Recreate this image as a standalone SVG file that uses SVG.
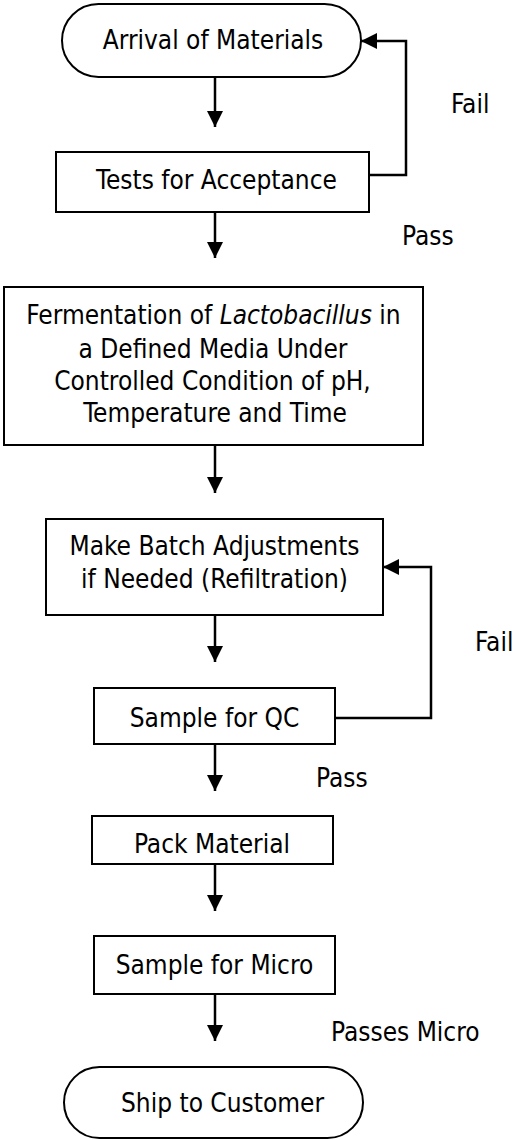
<svg xmlns="http://www.w3.org/2000/svg" width="516" height="1140" viewBox="0 0 516 1140">
<style>
.n{fill:#fff;stroke:#000;stroke-width:2}
.t{font-family:"DejaVu Sans Condensed","DejaVu Sans",Verdana,sans-serif;font-stretch:condensed;font-size:26px;fill:#000;text-anchor:middle}
.l{font-family:"DejaVu Sans Condensed","DejaVu Sans",Verdana,sans-serif;font-stretch:condensed;font-size:26px;fill:#000}
.c{fill:none;stroke:#000;stroke-width:2.5}
</style>
<defs>
<marker id="ah" markerUnits="userSpaceOnUse" markerWidth="16" markerHeight="16" refX="15" refY="7.5" orient="auto" viewBox="0 0 15 15">
<path d="M0,0 L15,7.5 L0,15 z" fill="#000"/>
</marker>
</defs>
<g id="connectors">
<path class="c" d="M215,77 V127" marker-end="url(#ah)"/>
<path class="c" d="M369,175 H406 V41 H361" marker-end="url(#ah)"/>
<path class="c" d="M215,212 V258" marker-end="url(#ah)"/>
<path class="c" d="M215,445 V493" marker-end="url(#ah)"/>
<path class="c" d="M215,615 V662" marker-end="url(#ah)"/>
<path class="c" d="M335,718 H431 V567 H383" marker-end="url(#ah)"/>
<path class="c" d="M215,744 V791" marker-end="url(#ah)"/>
<path class="c" d="M215,864 V911" marker-end="url(#ah)"/>
<path class="c" d="M215,994 V1041" marker-end="url(#ah)"/>
<text class="l" x="451" y="113">Fail</text>
<text class="l" x="402" y="245">Pass</text>
<text class="l" x="475" y="651">Fail</text>
<text class="l" x="316" y="787">Pass</text>
<text class="l" x="331" y="1041">Passes Micro</text>
</g>
<g id="arrival">
<rect class="n" x="62" y="4" width="299" height="73" rx="36.5"/>
<text class="t" x="213" y="49">Arrival of Materials</text>
</g>
<g id="tests">
<rect class="n" x="56" y="152" width="313" height="60"/>
<text class="t" x="216.5" y="189">Tests for Acceptance</text>
</g>
<g id="fermentation">
<rect class="n" x="4" y="287" width="419" height="158"/>
<text class="t" x="213.5" y="324">Fermentation of <tspan font-style="italic">Lactobacillus</tspan> in</text>
<text class="t" x="213" y="358">a Defined Media Under</text>
<text class="t" x="212.5" y="390">Controlled Condition of pH,</text>
<text class="t" x="215" y="422">Temperature and Time</text>
</g>
<g id="adjust">
<rect class="n" x="46" y="519" width="337" height="96"/>
<text class="t" x="214.5" y="555">Make Batch Adjustments</text>
<text class="t" x="214.5" y="588">if Needed (Refiltration)</text>
</g>
<g id="sampleqc">
<rect class="n" x="94" y="688" width="241" height="56"/>
<text class="t" x="214.5" y="727">Sample for QC</text>
</g>
<g id="pack">
<rect class="n" x="92" y="816" width="241" height="48"/>
<text class="t" x="212" y="853">Pack Material</text>
</g>
<g id="samplemicro">
<rect class="n" x="94" y="936" width="241" height="58"/>
<text class="t" x="214.5" y="974">Sample for Micro</text>
</g>
<g id="ship">
<rect class="n" x="64" y="1067" width="299" height="71" rx="35.5"/>
<text class="t" x="222.5" y="1112">Ship to Customer</text>
</g>
</svg>
